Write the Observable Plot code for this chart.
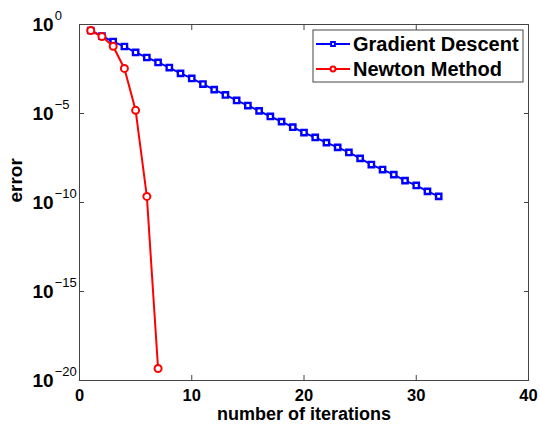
<!DOCTYPE html>
<html><head><meta charset="utf-8">
<script src="https://cdn.jsdelivr.net/npm/d3@7"></script>
<script src="https://cdn.jsdelivr.net/npm/@observablehq/plot@0.6"></script>
<style>
body{margin:0;background:#fff;}
#chart{position:relative;width:540px;height:424px;}
svg text{font-family:"Liberation Sans",Arial,sans-serif;font-weight:bold;}
</style></head><body><div id="chart"></div>
<script>
const gdIter = [1,2,3,4,5,6,7,8,9,10,11,12,13,14,15,16,17,18,19,20,21,22,23,24,25,26,27,28,29,30,31,32];
const gdError = [4.6e-1,2.2e-1,1.1e-1,5.8e-2,2.7e-2,1.4e-2,7.4e-3,3.8e-3,1.8e-3,9.3e-4,4.5e-4,2.2e-4,1.1e-4,5.4e-5,2.8e-5,1.4e-5,6.8e-6,3.5e-6,1.7e-6,8.5e-7,4.5e-7,2.3e-7,1.25e-7,6.5e-8,3.0e-8,1.35e-8,7.1e-9,3.7e-9,1.7e-9,9.1e-10,4.2e-10,2.2e-10];
const nmIter = [1,2,3,4,5,6,7];
const nmError = [4.6e-1,2.1e-1,6e-2,3.4e-3,1.5e-5,2.2e-10,4.7e-20];
const xTicks = [0,10,20,30,40];
const yTicks = [1e0,1e-5,1e-10,1e-15,1e-20];
const yTickExp = ["0","\u22125","\u221210","\u221215","\u221220"];
const seriesNames = ["Gradient Descent","Newton Method"];
const xLabel = "number of iterations";
const yLabel = "error";

const gd = gdIter.map((x,i)=>({x, y: gdError[i]}));
const nm = nmIter.map((x,i)=>({x, y: nmError[i]}));
const yt = yTicks.map((v,i)=>({v, e: "10|" + yTickExp[i]}));

const axisColor = "#444";
const plot = Plot.plot({
  width:540, height:424,
  marginLeft:79, marginRight:12, marginTop:24, marginBottom:44,
  style:{fontFamily:"Liberation Sans, Arial, sans-serif", fontSize:"16px", fontWeight:"bold", background:"#fff", color:"#000"},
  x:{domain:[0,40]},
  y:{type:"log", domain:[1e-20,1]},
  marks:[
    Plot.axisX({ticks:xTicks, tickSize:-5, tickFormat:()=>"", label:null, stroke:axisColor}),
    Plot.axisX({ticks:xTicks, anchor:"top", tickSize:-5, tickFormat:()=>"", label:null, stroke:axisColor}),
    Plot.axisX({ticks:xTicks, tickSize:0, tickPadding:9, label:null, fontSize:16.5, fill:"#000"}),
    Plot.axisY({ticks:yTicks, tickSize:-5, tickFormat:()=>"", label:null, stroke:axisColor}),
    Plot.axisY({ticks:yTicks, anchor:"right", tickSize:-5, tickFormat:()=>"", label:null, stroke:axisColor}),
    Plot.frame({stroke:axisColor}),
    Plot.text(yt, {y:"v", text:"e", frameAnchor:"left", dx:-47, textAnchor:"start", fontSize:19}),
    Plot.text([xLabel], {text:d=>d, frameAnchor:"bottom", lineAnchor:"middle", dy:34.2, fontSize:18}),
    Plot.text([yLabel], {text:d=>d, frameAnchor:"left", dx:-64, rotate:-90, fontSize:19}),
    Plot.line(gd, {x:"x", y:"y", stroke:"#0000ff", strokeWidth:2}),
    Plot.dot(gd, {x:"x", y:"y", symbol:"square", r:3, stroke:"#0000ff", strokeWidth:2.4, fill:"white"}),
    Plot.line(nm, {x:"x", y:"y", stroke:"#ff0000", strokeWidth:2}),
    Plot.dot(nm, {x:"x", y:"y", symbol:"circle", r:3.5, stroke:"#ff0000", strokeWidth:2, fill:"white"})
  ]
});
document.getElementById("chart").appendChild(plot);

// superscript tick labels
const svg = d3.select(plot);
svg.selectAll('text').filter(function(){ return (this.textContent||"").includes("|"); }).each(function(){
  const t = d3.select(this);
  const parts = t.text().split("|");
  t.text(null);
  t.append("tspan").text(parts[0]);
  t.append("tspan").attr("dx","1").attr("dy","-11").attr("font-size","13px").attr("font-weight","normal").text(parts[1]);
});

// legend
const lg = svg.append("g").attr("transform","translate(313,30)");
lg.append("rect").attr("width",210).attr("height",52).attr("fill","white").attr("stroke",axisColor);
const colors = ["#0000ff","#ff0000"];
const symbols = [d3.symbolSquare, d3.symbolCircle];
const sizes = [3*3*Math.PI, 3.5*3.5*Math.PI];
seriesNames.forEach((name,i)=>{
  const y = 14 + i*25;
  lg.append("line").attr("x1",3).attr("x2",37).attr("y1",y).attr("y2",y).attr("stroke",colors[i]).attr("stroke-width",2);
  lg.append("path").attr("d", d3.symbol(symbols[i], sizes[i]*0.5)()).attr("transform",`translate(20,${y})`).attr("fill","white").attr("stroke",colors[i]).attr("stroke-width",2);
  lg.append("text").attr("x",40).attr("y",y).attr("dy","0.36em").attr("text-anchor","start").attr("font-size","20px").attr("fill","#000").text(name);
});
</script></body></html>
